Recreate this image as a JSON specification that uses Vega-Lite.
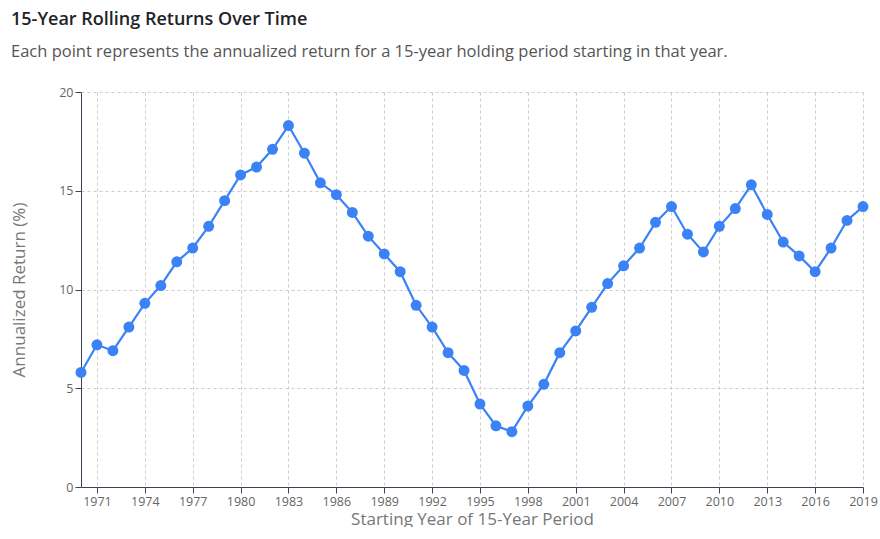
{
  "$schema": "https://vega.github.io/schema/vega-lite/v6.json",
  "width": 782,
  "height": 395,
  "autosize": {"type": "none"},
  "padding": {"left": 81, "top": 92, "right": 17, "bottom": 40},
  "background": "white",
  "title": {
    "text": "15-Year Rolling Returns Over Time",
    "subtitle": "Each point represents the annualized return for a 15-year holding period starting in that year.",
    "anchor": "start",
    "frame": "group",
    "dx": -70,
    "offset": 26,
    "font": "Open Sans",
    "fontSize": 18,
    "fontWeight": 600,
    "color": "#1f2328",
    "subtitleFont": "Open Sans",
    "subtitleFontSize": 16.5,
    "subtitleColor": "#555555",
    "subtitlePadding": 15
  },
  "config": {
    "view": {"stroke": null},
    "font": "Open Sans"
  },
  "data": {
    "values": [
      {"year": 1970, "ret": 5.8}, {"year": 1971, "ret": 7.2}, {"year": 1972, "ret": 6.9},
      {"year": 1973, "ret": 8.1}, {"year": 1974, "ret": 9.3}, {"year": 1975, "ret": 10.2},
      {"year": 1976, "ret": 11.4}, {"year": 1977, "ret": 12.1}, {"year": 1978, "ret": 13.2},
      {"year": 1979, "ret": 14.5}, {"year": 1980, "ret": 15.8}, {"year": 1981, "ret": 16.2},
      {"year": 1982, "ret": 17.1}, {"year": 1983, "ret": 18.3}, {"year": 1984, "ret": 16.9},
      {"year": 1985, "ret": 15.4}, {"year": 1986, "ret": 14.8}, {"year": 1987, "ret": 13.9},
      {"year": 1988, "ret": 12.7}, {"year": 1989, "ret": 11.8}, {"year": 1990, "ret": 10.9},
      {"year": 1991, "ret": 9.2}, {"year": 1992, "ret": 8.1}, {"year": 1993, "ret": 6.8},
      {"year": 1994, "ret": 5.9}, {"year": 1995, "ret": 4.2}, {"year": 1996, "ret": 3.1},
      {"year": 1997, "ret": 2.8}, {"year": 1998, "ret": 4.1}, {"year": 1999, "ret": 5.2},
      {"year": 2000, "ret": 6.8}, {"year": 2001, "ret": 7.9}, {"year": 2002, "ret": 9.1},
      {"year": 2003, "ret": 10.3}, {"year": 2004, "ret": 11.2}, {"year": 2005, "ret": 12.1},
      {"year": 2006, "ret": 13.4}, {"year": 2007, "ret": 14.2}, {"year": 2008, "ret": 12.8},
      {"year": 2009, "ret": 11.9}, {"year": 2010, "ret": 13.2}, {"year": 2011, "ret": 14.1},
      {"year": 2012, "ret": 15.3}, {"year": 2013, "ret": 13.8}, {"year": 2014, "ret": 12.4},
      {"year": 2015, "ret": 11.7}, {"year": 2016, "ret": 10.9}, {"year": 2017, "ret": 12.1},
      {"year": 2018, "ret": 13.5}, {"year": 2019, "ret": 14.2}
    ]
  },
  "encoding": {
    "x": {
      "field": "year",
      "type": "quantitative",
      "scale": {"domain": [1970, 2019], "nice": false, "zero": false},
      "axis": {
        "title": "Starting Year of 15-Year Period",
        "values": [1971, 1974, 1977, 1980, 1983, 1986, 1989, 1992, 1995, 1998, 2001, 2004, 2007, 2010, 2013, 2016, 2019],
        "format": "d",
        "labelFontSize": 12.5,
        "labelColor": "#666666",
        "labelPadding": 2,
        "titleFontSize": 17,
        "titleFontWeight": "normal",
        "titleColor": "#777777",
        "titlePadding": 4,
        "domainColor": "#3a4256",
        "tickColor": "#3a4256",
        "tickSize": 6,
        "grid": true,
        "gridColor": "#cccccc",
        "gridDash": [3, 3],
        "labelFlush": false
      }
    },
    "y": {
      "field": "ret",
      "type": "quantitative",
      "scale": {"domain": [0, 20], "nice": false},
      "axis": {
        "title": "Annualized Return (%)",
        "values": [0, 5, 10, 15, 20],
        "labelFontSize": 12.5,
        "labelColor": "#666666",
        "labelPadding": 2,
        "titleFontSize": 17,
        "titleFontWeight": "normal",
        "titleColor": "#777777",
        "titlePadding": 30,
        "domainColor": "#3a4256",
        "tickColor": "#3a4256",
        "tickSize": 6,
        "grid": true,
        "gridColor": "#cccccc",
        "gridDash": [3, 3]
      }
    }
  },
  "layer": [
    {"mark": {"type": "line", "color": "#3b82f6", "strokeWidth": 2.2}},
    {"mark": {"type": "point", "filled": true, "color": "#3b82f6", "opacity": 1, "size": 120}}
  ]
}
